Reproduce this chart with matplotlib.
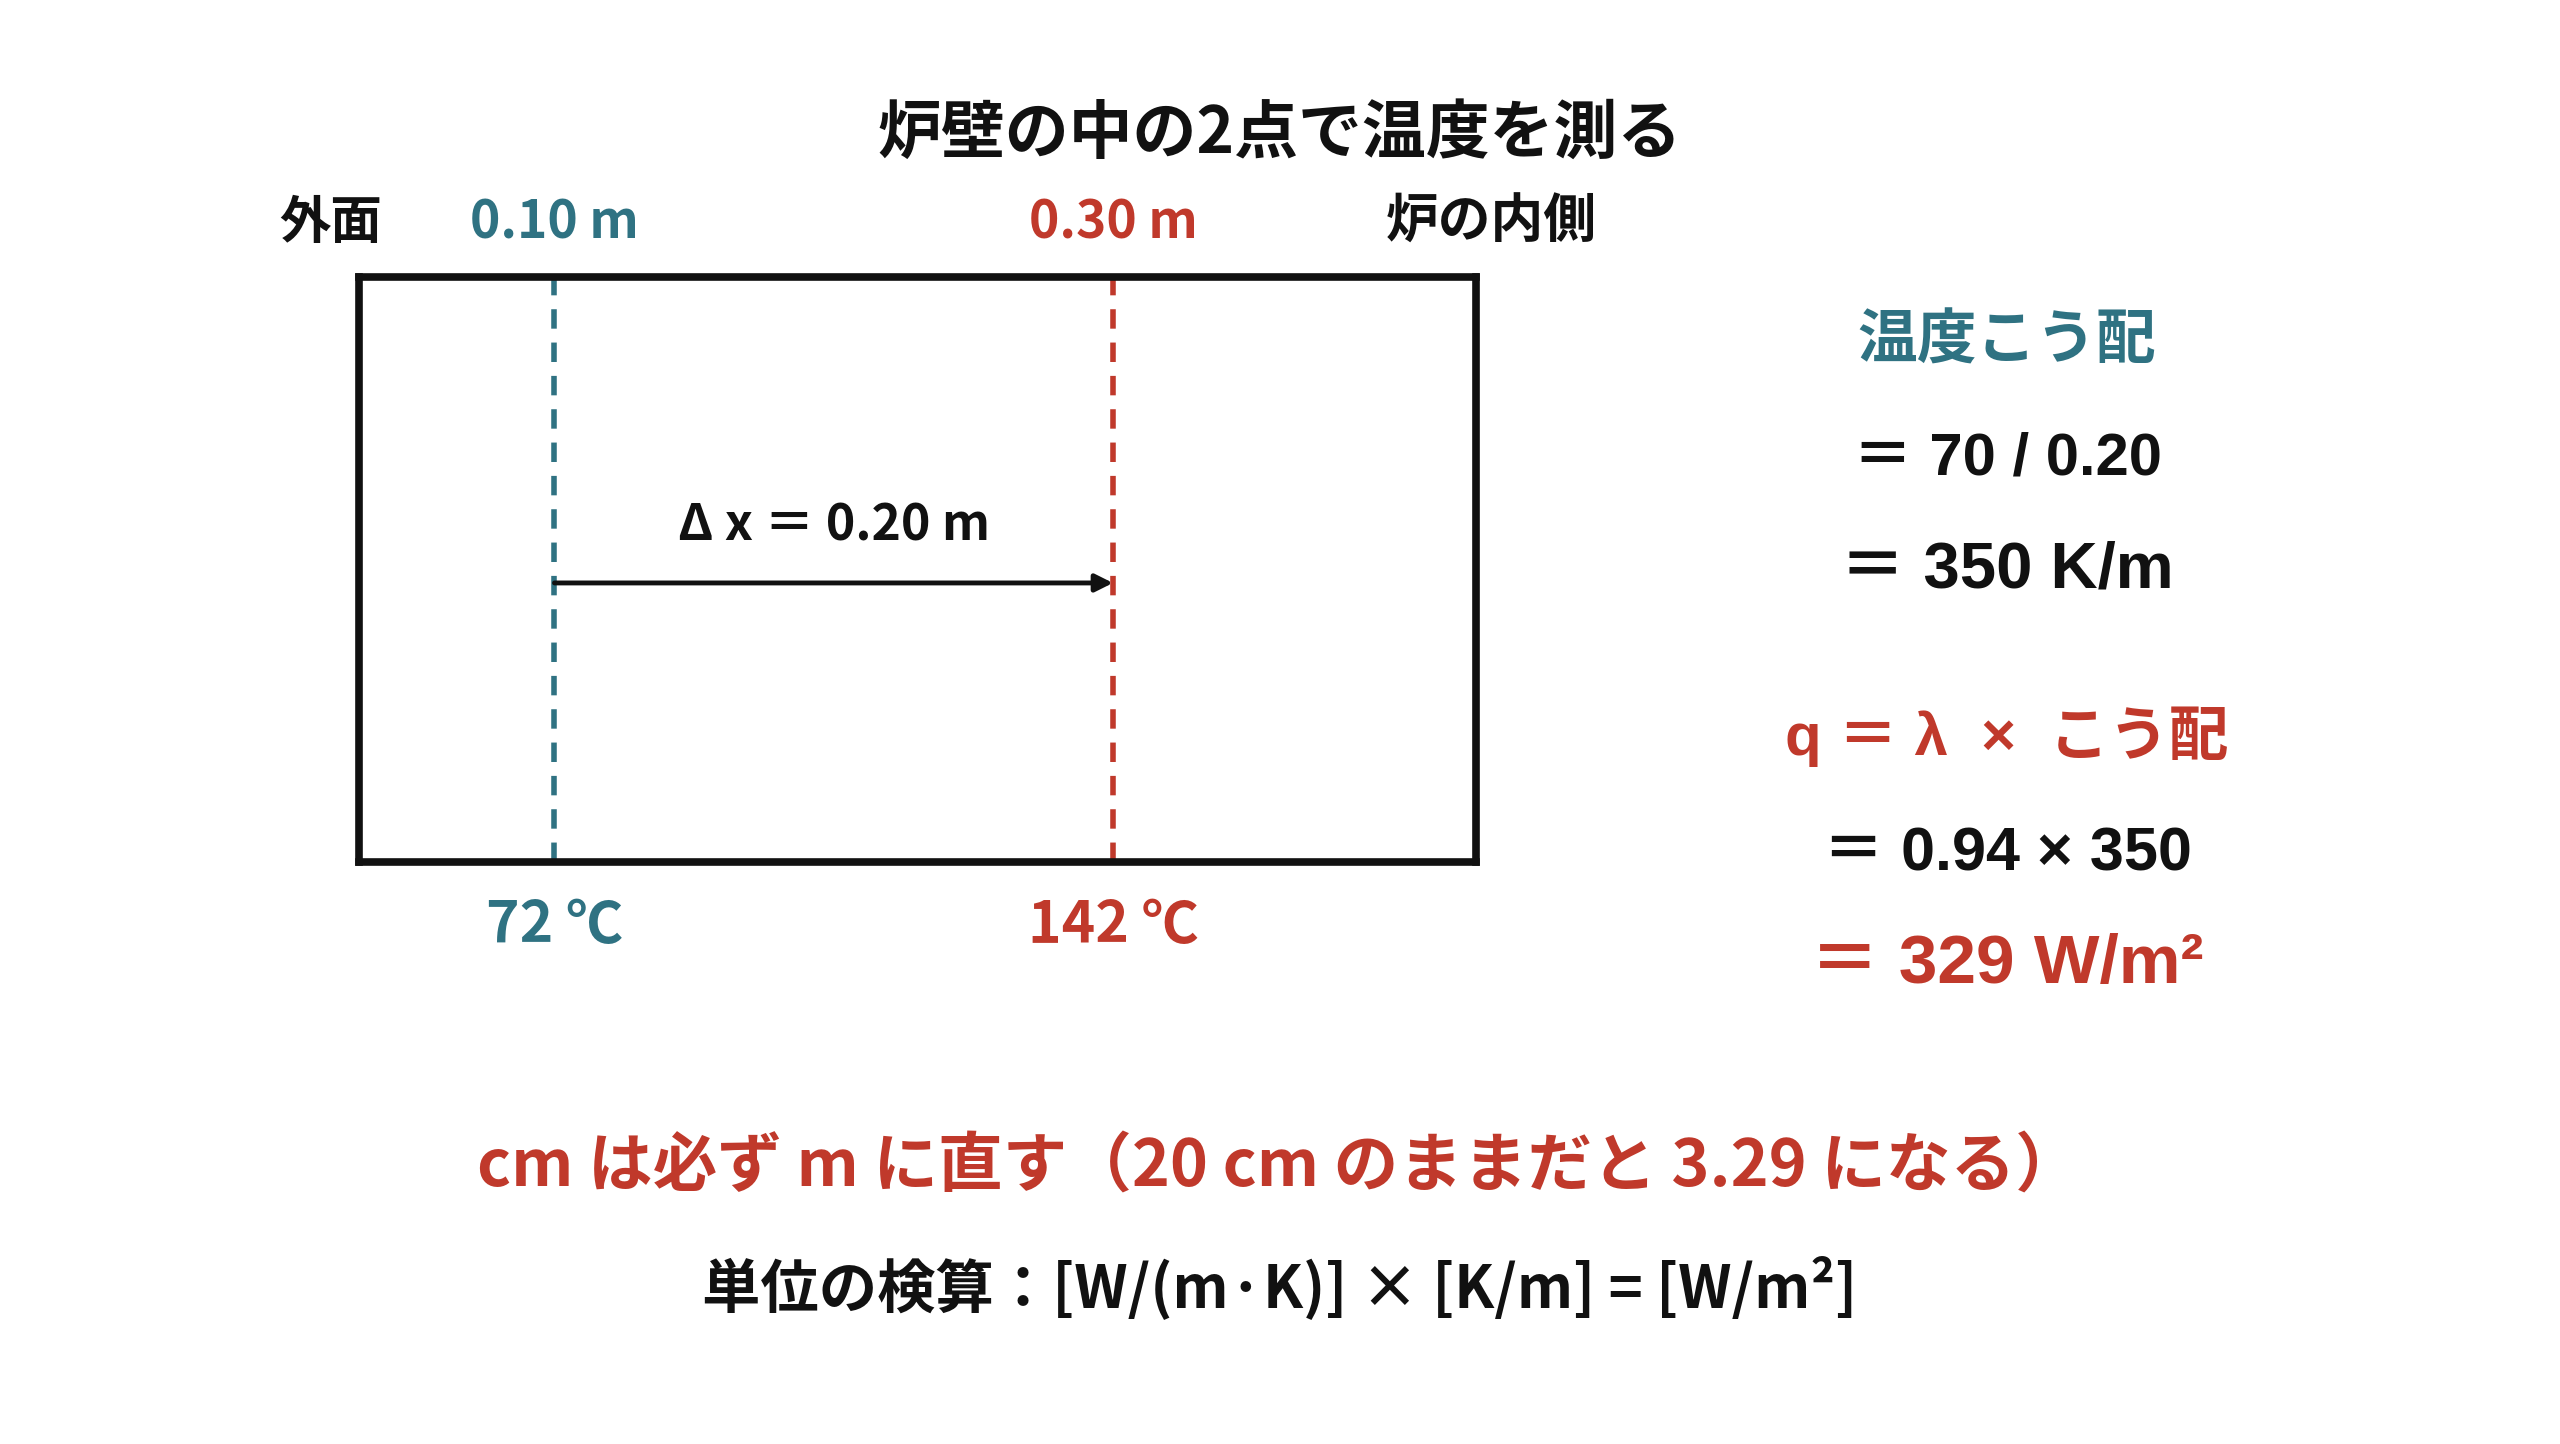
import matplotlib.pyplot as plt

plt.rcParams['font.family'] = ['Noto Sans CJK JP', 'DejaVu Sans']
CALC_FONT = ['Liberation Sans', 'Noto Sans CJK JP', 'DejaVu Sans']

TEAL = '#2f7282'
RED = '#c0392b'
INK = '#111111'

# measuring points in the wall
positions = [0.10, 0.30]          # m
temps = [72, 142]                 # ℃
point_colors = [TEAL, RED]
wall_span = (0.03, 0.43)          # drawn extent of the wall, m

# right-hand calculation lines: (text, colour, fontsize)
calc_lines = [
    ("温度こう配", TEAL, 43),
    ("＝ 70 / 0.20", INK, 43),
    ("＝ 350 K/m", INK, 47),
    ("q ＝ λ  ×  こう配", RED, 43),
    ("＝ 0.94 × 350", INK, 44),
    ("＝ 329 W/m²", RED, 50),
]
calc_y = [0.763, 0.682, 0.605, 0.490, 0.408, 0.332]

title = "炉壁の中の2点で温度を測る"
note = "cm は必ず m に直す（20 cm のままだと 3.29 になる）"
check = "単位の検算：[W/(m·K)] × [K/m] = [W/m²]"

fig = plt.figure(figsize=(25.6, 14.44), dpi=100)
fig.text(0.5, 0.907, title, ha='center', va='center', fontsize=46,
         fontweight='bold', color=INK)

ax = fig.add_axes([359 / 2560, 1 - 862 / 1444, 1117 / 2560, 585 / 1444])
ax.set_xlim(*wall_span)
ax.set_ylim(0, 1)
ax.set_xticks([])
ax.set_yticks([])
for s in ax.spines.values():
    s.set_linewidth(5.5)
    s.set_color(INK)

tr = ax.get_xaxis_transform()
for p, t, c in zip(positions, temps, point_colors):
    ax.axvline(p, color=c, lw=4, ls=(0, (3.5, 2.5)))
    ax.text(p, 1.093, f"{p:.2f} m", transform=tr, ha='center', va='center',
            fontsize=37, fontweight='bold', color=c)
    ax.text(p, -0.11, f"{t} ℃", transform=tr, ha='center', va='center',
            fontsize=41, fontweight='bold', color=c)

ax.text(-0.025, 1.093, "外面", transform=ax.transAxes, ha='center',
        va='center', fontsize=37, fontweight='bold', color=INK)
ax.text(1.014, 1.093, "炉の内側", transform=ax.transAxes, ha='center',
        va='center', fontsize=38, fontweight='bold', color=INK)

# Δx arrow between the two points
ax.annotate('', xy=(positions[1], 0.477), xytext=(positions[0], 0.477),
            xycoords=tr, textcoords=tr,
            arrowprops=dict(arrowstyle='-|>', lw=3.5, color=INK,
                            mutation_scale=26, shrinkA=0, shrinkB=0))
dx = positions[1] - positions[0]
ax.text(sum(positions) / 2, 0.575, f"Δ x ＝ {dx:.2f} m", transform=tr,
        ha='center', va='center', fontsize=36, fontweight='bold', color=INK)

for (txt, c, fs), y in zip(calc_lines, calc_y):
    fig.text(0.784, y, txt, ha='center', va='center', fontsize=fs,
             fontweight='bold', color=c, family=CALC_FONT)

fig.text(0.4995, 0.192, note, ha='center', va='center', fontsize=46.5,
         fontweight='bold', color=RED)
fig.text(0.5, 0.108, check, ha='center', va='center', fontsize=42,
         fontweight='bold', color=INK)

fig.savefig('out.png', dpi=100)
